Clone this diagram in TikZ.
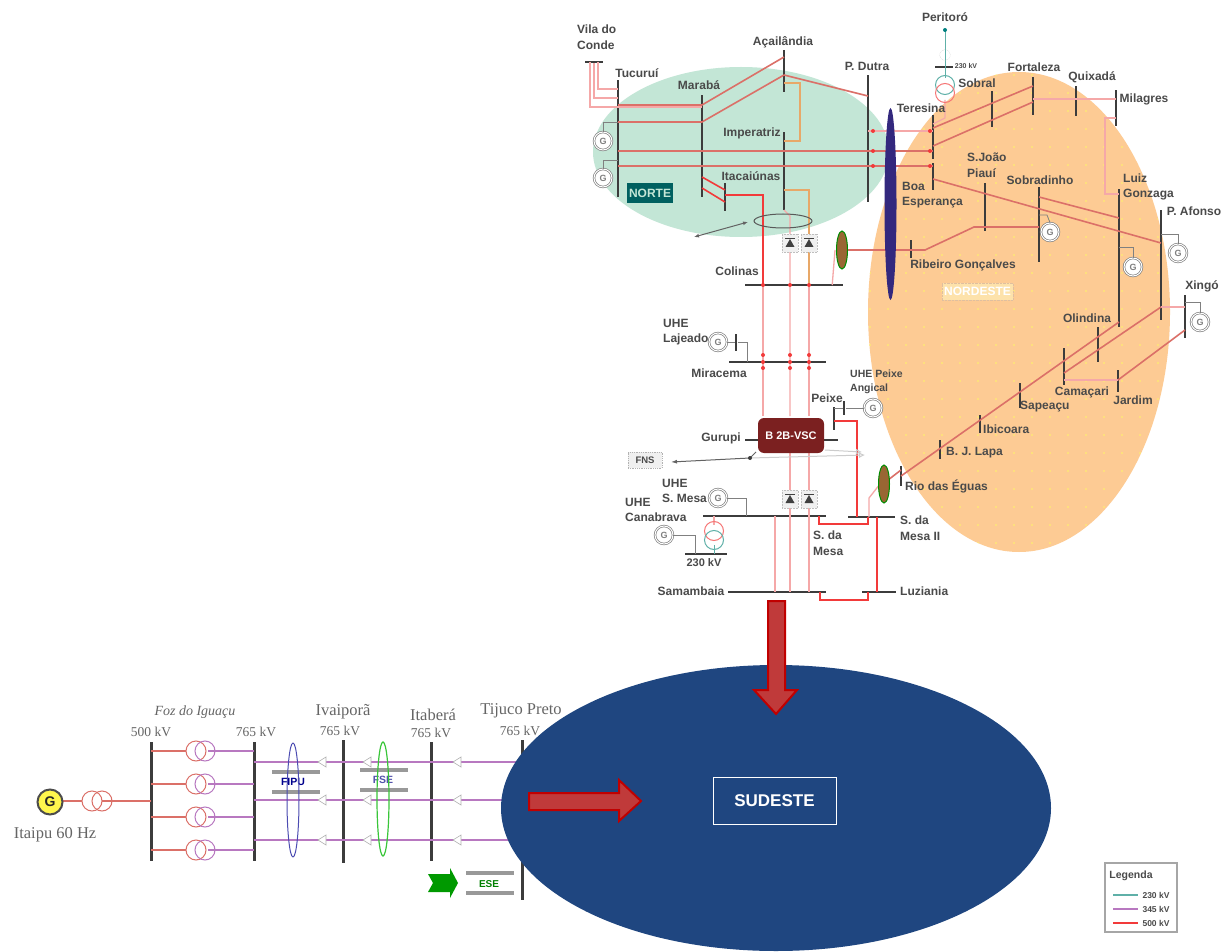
\documentclass[tikz,border=0pt]{standalone}
\usepackage{fontspec}
\setmainfont{Liberation Sans}
\newfontfamily\serifgrid{Liberation Serif}
\usetikzlibrary{arrows.meta,calc}
\definecolor{ngreen}{HTML}{C3E6D6}
\definecolor{norange}{HTML}{FDCB94}
\definecolor{sblue}{HTML}{1F4680}
\definecolor{lnred}{HTML}{DB7068}
\definecolor{brred}{HTML}{F23A3A}
\definecolor{pkred}{HTML}{F5A8A8}
\definecolor{lnorg}{HTML}{E8A868}
\definecolor{lnpur}{HTML}{B878C0}
\definecolor{busc}{HTML}{3C3C3C}
\definecolor{txtc}{HTML}{4A4A4A}
\definecolor{dred}{HTML}{C00000}
\definecolor{arrfill}{HTML}{C03A3A}
\definecolor{purell}{HTML}{33287E}
\definecolor{boxred}{HTML}{7B2020}
\definecolor{lgteal}{HTML}{5FB0A8}
\tikzset{
 vbus/.style={fill=busc,inner sep=0,minimum width=2.6pt,rectangle},
 hbus/.style={fill=busc,inner sep=0,minimum height=2.6pt,rectangle},
 lab/.style={font=\fontsize{12}{15.5}\selectfont\bfseries,text=txtc,inner sep=0,align=left},
 slab/.style={font=\serifgrid\fontsize{13.5}{14}\selectfont,text=txtc!85,inner sep=0,align=center},
 bigslab/.style={font=\serifgrid\fontsize{16.5}{17}\selectfont,text=txtc!85,inner sep=0,align=center},
 gen/.style={circle,draw=gray,double=white,double distance=1pt,line width=.7pt,fill=white,inner sep=0,minimum size=18pt,font=\fontsize{9}{9}\selectfont\bfseries,text=gray},
 xf/.style={circle,draw=#1,line width=1pt,inner sep=0,minimum size=19pt},
 lnA/.style={draw=lnred,line width=1.6pt},
 lnB/.style={draw=brred,line width=1.6pt},
 lnP/.style={draw=pkred,line width=1.3pt},
 lnO/.style={draw=lnorg,line width=1.3pt},
 lnU/.style={draw=lnpur,line width=1.5pt},
 lnK/.style={draw=gray,line width=.8pt},
 sep/.style={draw=gray!80,fill=gray!80,line width=0,inner sep=0,minimum height=3pt},
 compbox/.style={inner sep=0,font=\fontsize{10.5}{11}\selectfont\bfseries},
 diode/.pic={
  \fill[gray!12] (-8,-9) rectangle (8,9);
  \draw[gray!50,line width=.5pt,densely dotted] (-8,-9) rectangle (8,9);
  \fill[black!75] (-4.5,4) -- (4.5,4) -- (0,-4) -- cycle;
  \draw[black!75,line width=1pt] (-5,-4.5) -- (5,-4.5);
 },
}
\begin{document}
\begin{tikzpicture}[x=1pt,y=-1pt]
\useasboundingbox (0,0) rectangle (1229,952);
\fill[white] (0,0) rectangle (1229,952);
% Regions
\fill[norange] (1019,312) ellipse [x radius=151,y radius=240];
\begin{scope}
\clip (1019,312) ellipse [x radius=151,y radius=240];
\foreach \i in {0,...,17}{\foreach \j in {0,...,27}{
 \fill[yellow!60!white] ({870+\i*18},{75+\j*18}) circle (.8);}}
\end{scope}
\fill[ngreen] (741,152) ellipse [x radius=148,y radius=85];

% ---- North buses
\node[hbus,minimum width=18pt] (vila) at (594,62) {};
\node[vbus,minimum height=117pt] (tuc) at (618,138.5) {};
\node[vbus,minimum height=102pt] (mar) at (702,146) {};
\node[vbus,minimum height=42pt] (aca) at (784,71) {};
\node[vbus,minimum height=127pt] (pdu) at (868,138.5) {};
\node[vbus,minimum height=78pt] (imp) at (784,171) {};
\node[vbus,minimum height=28pt] (ita) at (725,197) {};
\node[hbus,minimum width=98pt] (col) at (794,285) {};
\node[hbus,minimum width=97pt] (mir) at (777.5,362) {};
\node[vbus,minimum height=44pt] (ter) at (933,137) {};
\node[vbus,minimum height=27pt] (boa) at (933,176.5) {};
\node[vbus,minimum height=36pt] (sob) at (992,109) {};
\node[vbus,minimum height=38pt] (for) at (1033,96) {};
\node[vbus,minimum height=30pt] (qui) at (1076,101) {};
\node[vbus,minimum height=36pt] (mil) at (1116,108) {};
\node[vbus,minimum height=48pt] (sjp) at (985,207) {};
\node[vbus,minimum height=75pt] (sbd) at (1039,224.5) {};
\node[vbus,minimum height=18pt] (rib) at (911,249) {};
\node[vbus,minimum height=138pt] (lui) at (1119,258) {};
\node[vbus,minimum height=110pt] (paf) at (1161,265) {};
\node[vbus,minimum height=43pt] (xin) at (1185,316.5) {};
\node[vbus,minimum height=35pt] (oli) at (1098,344.5) {};
\node[vbus,minimum height=37pt] (cam) at (1064,366.5) {};
\node[vbus,minimum height=22pt] (jar) at (1118,381) {};
\node[vbus,minimum height=25pt] (sap) at (1020,395.5) {};
\node[vbus,minimum height=18pt] (ibi) at (980,424) {};
\node[vbus,minimum height=19pt] (bjl) at (940,449.5) {};
\node[vbus,minimum height=20pt] (rio) at (901,476) {};
\node[vbus,minimum height=23pt] (pei) at (834,418.5) {};
\node[vbus,minimum height=14pt] (pan) at (844,408) {};
\node[vbus,minimum height=17pt] (laj) at (736,342) {};
\node[hbus,minimum width=93pt] (gur) at (791.5,440) {};
\node[hbus,minimum width=123pt] (sme) at (764.5,516) {};
\node[hbus,minimum width=47pt] (sm2) at (871.5,517) {};
\node[hbus,minimum width=42pt] (b23) at (706,554) {};
\node[hbus,minimum width=98pt] (sam) at (777,592) {};
\node[hbus,minimum width=34pt] (luz) at (879,592) {};
\node[hbus,minimum width=18pt] (b23p) at (944,67) {};
\coordinate (perit) at (945,30);

% generators
\node[gen] (g1) at (603,141) {G};
\node[gen] (g2) at (603,178) {G};
\node[gen] (g3) at (1050,232) {G};
\node[gen] (g4) at (1133,267) {G};
\node[gen] (g5) at (1178,253) {G};
\node[gen] (g6) at (1200,322) {G};
\node[gen] (g7) at (718,342) {G};
\node[gen] (g8) at (873,408) {G};
\node[gen] (g9) at (718,498) {G};
\node[gen] (g10) at (664,535) {G};

% North connectors
\draw[lnP] ($(vila)+(-4,0)$) |- (tuc |- 0,107) -- (mar |- 0,107);
\draw[lnP] (vila) |- (tuc |- 0,98);
\draw[lnP] ($(vila)+(4,0)$) |- (tuc |- 0,89);
\draw[lnA] (tuc |- 0,105) -- (mar |- 0,105) -- (aca |- 0,57);
\draw[lnA] (tuc |- 0,122) -- (mar |- 0,122) -- (aca |- 0,75);
\draw[lnA] (aca |- 0,75) -- (pdu |- 0,96);
\draw[lnO] (aca |- 0,83) -| (800,141) -- (imp |- 0,141);
\draw[lnA] (tuc |- 0,151) -- (ter |- 0,151);
\draw[lnA] (tuc |- 0,166) -- (boa |- 0,166);
\draw[lnP] (pdu |- 0,131) -- (ter |- 0,131);
\draw[lnB] (mar |- 0,177) -- (ita |- 0,190);
\draw[lnB] (mar |- 0,188) -- (ita |- 0,202);
\draw[lnB] (ita |- 0,195) -| (763,285);
\draw[lnP] (763,285) -- (763,416);
\draw[lnO] (imp |- 0,190) -| (809,285);
\draw[lnP] (imp |- 0,210) -- (790,216) -- (790,285) -- (790,416);
\draw[lnP] (809,285) -- (809,416);
\draw[lnP] (790,453) -- (790,516) -- (790,592);
\draw[lnP] (809,453) -- (809,516) -- (809,592);
\draw[lnP] (775,516) -- (775,592);
\draw[black!65,line width=1pt] (783,221) ellipse [x radius=29,y radius=7];
\coordinate (e1) at (748,222);
\coordinate (e2) at (694,237);
\draw[busc!80,line width=1pt,{Latex[length=5pt,width=4pt]}-{Latex[length=5pt,width=4pt]}] (e2) -- (e1);
\pic at (790,243) {diode};
\pic at (809,243) {diode};
\pic at (790,499) {diode};
\pic at (809,499) {diode};

% Northeast connectors
\draw[lnP] (col.east |- 0,285) ++(-11,0) -- (835,250);
\draw[lnA] (848,250) -- (rib |- 0,250);
\draw[lnA] (rib |- 0,250) -- (925,250) -- (974,227) -- (sjp |- 0,227) -- (sbd |- 0,227);
\draw[lnA] (ter |- 0,128) -- (for |- 0,86);
\draw[lnA] (ter |- 0,146) -- (for |- 0,102);
\draw[lnP] (for |- 0,99) -- (mil |- 0,99);
\draw[lnP] (mil |- 0,118) -| (1105,194) -- (lui |- 0,194);
\draw[lnA] (boa |- 0,179) -- (paf |- 0,243);
\draw[lnA] (sbd |- 0,197) -- (lui |- 0,218);
\draw[lnP] (paf |- 0,307) -- (xin |- 0,307);
\draw[lnA] (paf |- 0,307) -- (cam |- 0,373);
\draw[lnP] (cam |- 0,380) -- (jar |- 0,380);
\draw[lnA] (jar |- 0,380) -- (xin |- 0,330);
\draw[lnA] (rio |- 0,476) -- (lui |- 0,322);

% Generator links
\draw[lnK] (tuc |- 0,122) -| (g1.north);
\draw[lnK] (tuc |- 0,160) -| (g2.north);
\draw[lnK] (sbd |- 0,215) -- (1047,215) -- (g3.north);
\draw[lnK] (lui |- 0,247) -| (g4.north);
\draw[lnK] (paf |- 0,234) -| (g5.north);
\draw[lnK] (xin |- 0,302) -| (g6.north);
\draw[lnK] (g7) -- (laj);
\draw[lnK] (laj) -| (747,362);
\draw[lnK] (pan) -- (g8);
\draw[lnK] (pei |- 0,408) -- (pan);
\draw[lnK] (g9) -| (746,516);
\draw[lnK] (g10) -| (695,554);

% Transformers to Teresina / Peritoro
\draw[draw=lgteal,line width=1pt] (perit) -- (b23p.center -| perit);
\draw[lnP] (945,100) -- (945,118) -- (ter |- 0,124);
\draw[draw=lgteal,line width=1pt] (945,67) -- (945,78);
\node[xf=lgteal] (tp1) at (945,85) {};
\node[xf=brred!70] (tp2) at (945,93) {};
\fill[teal] (perit) circle (2);
\node[circle,draw=gray!50,densely dotted,inner sep=0,minimum size=11pt] (dp) at (945,55) {};

% S. da Mesa transformer
\draw[lnP] (714,516) -- (714,525);
\draw[draw=lgteal,line width=1pt] (714,545) -- (b23 -| 714,0);
\node[xf=brred!70] (ts1) at (714,531) {};
\node[xf=lgteal] (ts2) at (714,540) {};

% South part of the N-S link
\draw[lnB] (pei |- 0,421) -| (857,517);
\draw[lnB] (819,516) |- (868,524) -- (868,517);
\draw[lnB] (820,592) |- (868,600) -- (868,592);
\draw[lnB] (877,517) -- (877,592);
\draw[lnP] (869,517) -- (869,498) -- (880,484);
\draw[lnA] (888,480) -- (rio |- 0,470);

% Series compensation ellipses
\fill[draw=green!55!black,fill=brown!80!black,line width=1pt] (842,250) ellipse [x radius=5.5,y radius=19];
\fill[draw=green!55!black,fill=brown!80!black,line width=1pt] (884,484) ellipse [x radius=5.5,y radius=19];
\fill[fill=purell] (890.5,204) ellipse [x radius=6,y radius=96];

% red ticks
\foreach \p/\q in {873/131,873/151,873/166,930/131,930/151,930/166,763/285,790/285,809/285,763/362,790/362,809/362,763/355,790/355,809/355,763/368,790/368,809/368}{
 \fill[brred] (\p,\q) circle (2);}

% Gurupi and arrows
\coordinate (fn1) at (750,458);
\coordinate (fn2) at (671,462);
\coordinate (fn3) at (865,455);
\draw[gray!40,line width=1pt,-{Latex[length=6pt,width=6pt,open]}] (fn1) -- (fn3);
\draw[gray!40,line width=1pt,-{Latex[length=6pt,width=6pt,open]}] (825,450) -- (862,452);
\draw[busc!80,line width=1pt,-{Latex[length=6pt,width=4pt]}] (fn1) -- (fn2);
\draw[busc!80,line width=1pt] (fn1) -- (756,452);
\fill[busc] (fn1) circle (2);
\node[rectangle,rounded corners=6pt,fill=boxred,minimum width=66pt,minimum height=35pt,inner sep=0,text=white,font=\fontsize{11}{11}\selectfont\bfseries] (b2b) at (791,435.5) {B 2B-VSC};
\node[draw=gray!60,densely dotted,fill=gray!12,line width=.8pt,minimum width=34pt,minimum height=16pt,inner sep=0,font=\fontsize{9.5}{10}\selectfont\bfseries,text=txtc] (fns) at (645,460) {FNS};

% Labels north
\node[lab,anchor=west] (l1) at (577,37) {Vila do\\Conde};
\node[lab] (l2) at (637,73) {Tucuruí};
\node[lab] (l3) at (699,85) {Marabá};
\node[lab] (l4) at (783,42) {Açailândia};
\node[lab] (l5) at (867,66) {P. Dutra};
\node[lab] (l6) at (752,133) {Imperatriz};
\node[lab] (l7) at (751,176) {Itacaiúnas};
\node[lab] (l8) at (737,271) {Colinas};
\node[lab] (l9) at (921,108) {Teresina};
\node[lab,anchor=west] (l10) at (902,195) {Boa\\Esperança};
\node[lab] (l11) at (945,17) {Peritoró};
\node[font=\fontsize{7}{7}\selectfont\bfseries,text=txtc,inner sep=0] (l12) at (966,66) {230 kV};
\node[lab] (l13) at (977,83) {Sobral};
\node[lab] (l14) at (1034,67) {Fortaleza};
\node[lab] (l15) at (1092,77) {Quixadá};
\node[lab] (l16) at (1144,99) {Milagres};
\node[lab,anchor=west] (l17) at (967,165) {S.João\\Piauí};
\node[lab] (l18) at (1040,180) {Sobradinho};
\node[lab,anchor=west] (l19) at (1123,187) {Luiz\\Gonzaga};
\node[lab] (l20) at (1194,211) {P. Afonso};
\node[lab] (l21) at (963,265) {Ribeiro Gonçalves};
\node[lab] (l22) at (1202,286) {Xingó};
\node[lab] (l23) at (1087,318) {Olindina};
\node[lab] (l24) at (1082,392) {Camaçari};
\node[lab] (l25) at (1133,400) {Jardim};
\node[lab,anchor=west] (l26) at (1020,407) {Sapeaçu};
\node[lab,anchor=west] (l27) at (983,429) {Ibicoara};
\node[lab,anchor=west] (l28) at (946,453) {B. J. Lapa};
\node[lab,anchor=west] (l29) at (905,486) {Rio das Éguas};
\node[lab,anchor=west] (l30) at (663,332) {UHE\\Lajeado};
\node[lab] (l31) at (719,373) {Miracema};
\node[lab,anchor=west,font=\fontsize{10.5}{14}\selectfont\bfseries] (l32) at (850,382) {UHE Peixe\\Angical};
\node[lab] (l33) at (827,398) {Peixe};
\node[lab] (l34) at (721,438) {Gurupi};
\node[lab,anchor=west] (l35) at (662,491) {UHE\\S. Mesa};
\node[lab,anchor=west] (l36) at (625,510) {UHE\\Canabrava};
\node[font=\fontsize{11}{11}\selectfont\bfseries,text=txtc,inner sep=0] (l37) at (704,563) {230 kV};
\node[lab,anchor=west] (l38) at (813,543) {S. da\\Mesa};
\node[lab,anchor=west] (l39) at (900,528) {S. da\\Mesa II};
\node[lab] (l40) at (691,591) {Samambaia};
\node[lab,anchor=west] (l41) at (900,591) {Luziania};
\node[fill=teal!75!black,minimum width=46pt,minimum height=20pt,inner sep=0,text=ngreen,font=\fontsize{12}{12}\selectfont\bfseries] (nte) at (650,193) {NORTE};
\node[fill=yellow!30!orange!30,draw=brown!50,densely dotted,minimum width=71pt,minimum height=17pt,inner sep=0,text=white,font=\fontsize{12}{12}\selectfont\bfseries] (nde) at (977.5,291.5) {NORDESTE};

% ---- South-west
\node[vbus,minimum height=119pt,minimum width=3pt] (b500) at (151,801.5) {};
\node[vbus,minimum height=119pt,minimum width=3pt] (b765) at (254,801.5) {};
\node[vbus,minimum height=123pt,minimum width=3pt] (biv) at (343,801.5) {};
\node[vbus,minimum height=119pt,minimum width=3pt] (bit) at (431,801.5) {};
\node[vbus,minimum height=160pt,minimum width=3pt] (btp) at (522,820) {};
\draw[lnA] (50,801) -- (b500 |- 0,801);
\node[circle,draw=black!70,fill=yellow!70,line width=2pt,inner sep=0,minimum size=25pt,font=\fontsize{14}{14}\selectfont\bfseries,text=black!85] (gi) at (50,802) {G};
\node[circle,draw=lnred,line width=1pt,fill=white,minimum size=20pt,inner sep=0] (ti1) at (92,801) {};
\node[circle,draw=lnred,line width=1pt,minimum size=20pt,inner sep=0] (ti2) at (102,801) {};
\foreach \n/\y in {a/751,b/784,c/817,d/850}{
 \draw[lnA] (b500 |- 0,\y) -- (192,\y);
 \draw[lnU] (208,\y) -- (b765 |- 0,\y);
 \node[circle,draw=lnred,line width=1pt,fill=white,minimum size=20pt,inner sep=0] (tl\n) at (196,\y) {};
 \node[circle,draw=lnpur,line width=1pt,minimum size=20pt,inner sep=0] (tr\n) at (205,\y) {};
}
\foreach \y in {762,800,840}{
 \draw[lnU] (b765 |- 0,\y) -- (biv |- 0,\y) -- (bit |- 0,\y) -- (btp |- 0,\y);
 \foreach \x in {322,367,457}{
  \draw[draw=gray!60,fill=white,line width=.6pt] ({\x+4},{\y-5}) -- ({\x-4},\y) -- ({\x+4},{\y+5}) -- cycle;}
}
% FIPU, FSE, ESE
\foreach \n/\x/\y in {p1/296/772,p2/296/792,s1/384/770,s2/384/790,e1/489.5/873,e2/489.5/893}{
 \node[sep,minimum width=47pt] (sb\n) at (\x,\y) {};}
\node[compbox,text=blue!55!black] (tfipu) at (293,782) {FIPU};
\node[compbox,text=blue!35!gray] (tfse) at (383,780) {FSE};
\node[compbox,font=\fontsize{10}{10}\selectfont\bfseries,text=green!50!black] (tese) at (489,884) {ESE};
\draw[blue!40!gray,line width=1pt] (293,800) ellipse [x radius=6,y radius=57];
\draw[green!55!gray,line width=1.2pt] (383,799) ellipse [x radius=6,y radius=57];
\fill[green!60!black] (428,874) -- (450,874) -- (450,868) -- (458,883) -- (450,898) -- (450,892) -- (428,892) -- (433,883) -- cycle;

% Blue region
\fill[sblue] (776,808) ellipse [x radius=275,y radius=143];
\node[draw=white,line width=1pt,minimum width=123pt,minimum height=47pt,inner sep=0,text=white,font=\fontsize{17}{17}\selectfont\bfseries] (sud) at (774.5,800.5) {SUDESTE};
\draw[draw=dred,fill=arrfill,line width=2pt,line join=miter] (768,601) -- (785,601) -- (785,690) -- (797,690) -- (776,714) -- (754,690) -- (768,690) -- cycle;
\draw[draw=dred,fill=arrfill,line width=2pt,line join=miter] (529,793) -- (619,793) -- (619,780) -- (641,801) -- (619,821) -- (619,810) -- (529,810) -- cycle;

% Serif labels
\node[slab,font=\serifgrid\itshape\fontsize{14}{14}\selectfont] (s1) at (195,712) {Foz do Iguaçu};
\node[slab] (s2) at (151,732) {500 kV};
\node[slab] (s3) at (256,732) {765 kV};
\node[bigslab] (s4) at (343,712) {Ivaiporã};
\node[slab] (s5) at (340,731) {765 kV};
\node[bigslab] (s6) at (433,715) {Itaberá};
\node[slab] (s7) at (431,733) {765 kV};
\node[bigslab] (s8) at (521,711) {Tijuco Preto};
\node[slab] (s9) at (520,731) {765 kV};
\node[bigslab] (s10) at (55,835) {Itaipu 60 Hz};

% Legend
\node[draw=gray!70,line width=1.6pt,minimum width=72pt,minimum height=69pt,inner sep=0] (leg) at (1141,897.5) {};
\node[lab,font=\fontsize{10.5}{11}\selectfont\bfseries] (lg0) at (1131,876) {Legenda};
\foreach \n/\y/\t/\cc in {a/895/230 kV/lgteal,b/909/345 kV/lnpur,c/923/500 kV/brred}{
 \node[font=\fontsize{8.5}{9}\selectfont\bfseries,text=txtc,inner sep=0] (lt\n) at (1156,\y) {\t};
 \coordinate (ls\n) at (1113,\y);
 \draw[draw=\cc,line width=1.4pt] (ls\n) -- (1138,\y);
}
\end{tikzpicture}
\end{document}
